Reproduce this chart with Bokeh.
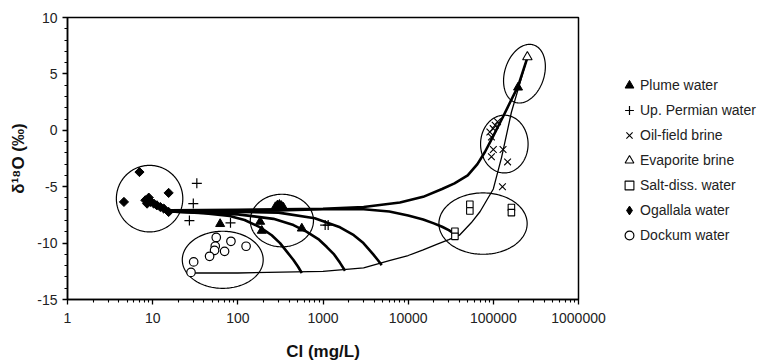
import numpy as np
from bokeh.plotting import figure
from bokeh.layouts import row
from bokeh.models import Legend, LegendItem, FixedTicker
from bokeh.embed import file_html
from bokeh.resources import INLINE

FONT = "Liberation Sans"

# ---------------- data ----------------
plume_cl = [62, 183, 191, 276, 292, 308, 325, 343, 564, 195000]
plume_d18o = [-8.3, -8.1, -8.9, -6.8, -6.65, -6.6, -6.7, -6.85, -8.7, 3.8]

permian_cl = [33, 30, 27, 82, 1060, 1150]
permian_d18o = [-4.7, -6.5, -8.0, -8.2, -8.4, -8.4]

oilfield_cl = [91000, 99600, 105000, 112000, 95000, 100000, 130000, 95000, 147000, 128000]
oilfield_d18o = [-0.15, 0.15, 0.45, 0.75, -0.6, -1.7, -1.7, -2.35, -2.8, -5.0]

evaporite_cl = [251000]
evaporite_d18o = [6.5]

saltdiss_cl = [53000, 53000, 163000, 163000, 35400, 35400]
saltdiss_d18o = [-6.55, -7.15, -6.85, -7.3, -8.95, -9.4]

ogallala_cl = [7.0, 4.6, 15.4, 8.2, 9.0, 9.4, 8.6, 10.3, 11.2, 12.3, 13.5, 15.4]
ogallala_d18o = [-3.7, -6.35, -5.55, -6.2, -5.97, -6.35, -6.5, -6.5, -6.65, -6.8, -6.94, -7.24]

dockum_cl = [55.8, 83, 125, 54.3, 53.3, 69.9, 46.6, 30.3, 28.2]
dockum_d18o = [-9.5, -9.84, -10.28, -10.28, -10.64, -10.73, -11.17, -11.67, -12.6]

# mixing curves (thick): Ogallala -> evaporite, -> salt-diss, -> three Dockum-side end points
mix_evap_cl = [16, 100, 300, 1000, 3000, 8000, 15000, 25000, 35000, 50000, 65000, 80000,
               100000, 130000, 160000, 195000, 250000]
mix_evap_d18o = [-7.1, -7.05, -7.0, -6.95, -6.8, -6.4, -5.9, -5.2, -4.7, -4.0, -3.0, -1.9,
                 -0.5, 1.2, 2.6, 3.9, 6.4]

mix_salt_cl = [16, 300, 1000, 3000, 6000, 10000, 15000, 20000, 25000, 30000, 37000]
mix_salt_d18o = [-7.2, -7.1, -7.0, -7.0, -7.2, -7.55, -7.9, -8.25, -8.55, -8.85, -9.3]

mix_c1_cl = [16, 40, 80, 120, 183, 250, 313, 380, 450, 510, 564]
mix_c1_d18o = [-7.2, -7.35, -7.6, -7.95, -8.6, -9.3, -10.0, -10.8, -11.5, -12.1, -12.65]

mix_c2_cl = [16, 100, 262, 450, 646, 900, 1110, 1350, 1585, 1815]
mix_c2_d18o = [-7.2, -7.45, -7.85, -8.4, -9.0, -9.7, -10.35, -11.0, -11.75, -12.45]

mix_c3_cl = [16, 300, 800, 1585, 2300, 2980, 3500, 3890, 4400, 4890]
mix_c3_d18o = [-7.15, -7.3, -7.8, -8.6, -9.3, -10.0, -10.6, -11.0, -11.5, -11.95]

# thin curve: Dockum -> salt-diss -> evaporite
mix_dock_cl = [28, 100, 1000, 3000, 6000, 10000, 15000, 22000, 30000, 40000, 55000, 70000,
               100000, 125000, 163000, 200000, 250000]
mix_dock_d18o = [-12.65, -12.65, -12.5, -12.2, -11.55, -11.1, -10.6, -10.1, -9.7, -9.3, -8.2, -7.2,
                 -5.2, -2.4, 1.6, 3.9, 6.4]

# group envelopes: centre (mg/L, permil), half-widths (decades, permil), tilt (decades)
ell_cl = [9.2, 66.5, 329, 75700, 134600, 232000]
ell_d18o = [-6.06, -11.48, -8.0, -8.27, -1.22, 5.02]
ell_rx_dec = [0.39, 0.475, 0.371, 0.518, 0.279, 0.238]
ell_ry = [2.95, 2.53, 2.33, 2.72, 2.56, 2.6]
ell_tilt = [0.0, 0.0, 0.0, 0.0, 0.0, 0.06]

x_ticks = [1, 10, 100, 1000, 10000, 100000, 1000000]
x_tick_labels = ["1", "10", "100", "1000", "10000", "100000", "1000000"]
y_ticks = [-15, -10, -5, 0, 5, 10]
y_tick_labels = ["-15", "-10", "-5", "0", "5", "10"]

legend_labels = ["Plume water", "Up. Permian water", "Oil-field brine", "Evaporite brine",
                 "Salt-diss. water", "Ogallala water", "Dockum water"]

# ---------------- main figure ----------------
p = figure(width=612, height=363, x_axis_type="log", x_range=(1, 1000000), y_range=(-15, 10),
           output_backend="svg", toolbar_location=None,
           min_border_left=67, min_border_right=34, min_border_top=17, min_border_bottom=64)
p.background_fill_color = "white"
p.border_fill_color = "white"
p.xgrid.visible = False
p.ygrid.visible = False
p.outline_line_color = "black"
p.outline_line_width = 1.5

# envelopes
t = np.linspace(0, 2 * np.pi, 181)
ex, ey = [], []
for cx, cy, rx, ry, tl in zip(ell_cl, ell_d18o, ell_rx_dec, ell_ry, ell_tilt):
    ex.append(cx * 10 ** (rx * np.cos(t) + tl * np.sin(t)))
    ey.append(cy + ry * np.sin(t))
p.multi_line(ex, ey, line_color="black", line_width=1.2)

# mixing curves
p.line(mix_dock_cl, mix_dock_d18o, line_color="black", line_width=1.3)
for cx, cy in [(mix_evap_cl, mix_evap_d18o), (mix_salt_cl, mix_salt_d18o),
               (mix_c1_cl, mix_c1_d18o), (mix_c2_cl, mix_c2_d18o), (mix_c3_cl, mix_c3_d18o)]:
    p.line(cx, cy, line_color="black", line_width=2.6, line_join="round")

# marker styles shared by plot and legend
styles = [
    dict(marker="triangle", size=9, fill_color="black", line_color="black"),
    dict(marker="cross", size=10, line_color="black", line_width=1.2),
    dict(marker="x", size=9.5, line_color="black", line_width=1.1),
    dict(marker="triangle", size=9.5, fill_color="white", line_color="black", line_width=1.1),
    dict(marker="square", size=6.5, fill_color="white", line_color="black", line_width=1.1),
    dict(marker="square", angle=np.pi / 4, size=6.5, fill_color="black", line_color="black"),
    dict(marker="circle", size=8.5, fill_color="white", line_color="black", line_width=1.2),
]
series = [(plume_cl, plume_d18o), (permian_cl, permian_d18o), (oilfield_cl, oilfield_d18o),
          (evaporite_cl, evaporite_d18o), (saltdiss_cl, saltdiss_d18o),
          (ogallala_cl, ogallala_d18o), (dockum_cl, dockum_d18o)]
draw_order = [6, 5, 4, 3, 2, 1, 0]
for i in draw_order:
    p.scatter(series[i][0], series[i][1], **styles[i])

# axes
minor_x = [m * 10 ** k for k in range(6) for m in range(2, 10)]
p.xaxis.ticker = FixedTicker(ticks=x_ticks, minor_ticks=minor_x)
p.xaxis.major_label_overrides = {tk: lab for tk, lab in zip(x_ticks, x_tick_labels)}
p.yaxis.ticker = FixedTicker(ticks=y_ticks, minor_ticks=list(range(-15, 11)))
p.yaxis.major_label_overrides = {tk: lab for tk, lab in zip(y_ticks, y_tick_labels)}

p.xaxis.axis_label = "Cl (mg/L)"
p.yaxis.axis_label = "δ¹⁸O (‰)"
for ax in (p.xaxis, p.yaxis):
    ax.axis_line_color = "black"
    ax.axis_line_width = 1.5
    ax.major_tick_line_color = "black"
    ax.minor_tick_line_color = "black"
    ax.major_tick_line_width = 1.3
    ax.minor_tick_line_width = 1.1
    ax.major_tick_in = 0
    ax.major_tick_out = 5
    ax.minor_tick_in = 0
    ax.minor_tick_out = 3
    ax.major_label_text_font = FONT
    ax.major_label_text_font_size = "14px"
    ax.major_label_text_color = "#222222"
    ax.axis_label_text_font = FONT
    ax.axis_label_text_font_size = "17px"
    ax.axis_label_text_font_style = "bold"
    ax.axis_label_text_color = "#111111"
p.xaxis.major_label_standoff = 8
p.xaxis.axis_label_standoff = 16
p.yaxis.major_label_standoff = 5
p.yaxis.axis_label_standoff = 6

# ---------------- legend panel (series drawn off-range, only their legend glyphs show) ----------------
lg = figure(width=148, height=363, x_range=(-2, -1), y_range=(-100, -99), output_backend="svg",
            toolbar_location=None, x_axis_location=None, y_axis_location=None,
            min_border_left=0, min_border_top=17, min_border_right=0, min_border_bottom=64)
lg.xgrid.visible = False
lg.ygrid.visible = False
lg.outline_line_color = None
lg.background_fill_color = "white"
lg.border_fill_color = "white"

items = []
for i, lab in enumerate(legend_labels):
    st = dict(styles[i])
    if i == 5:
        st = dict(marker="diamond", size=10, fill_color="black", line_color="black")
    r = lg.scatter(series[i][0], series[i][1], **st)
    items.append(LegendItem(label=lab, renderers=[r]))

legend = Legend(items=items, location=(6, 53), orientation="vertical")
legend.label_text_font = FONT
legend.label_text_font_size = "14px"
legend.label_text_color = "#222222"
legend.glyph_width = 22
legend.glyph_height = 22
legend.label_height = 22
legend.spacing = 3
legend.padding = 0
legend.margin = 0
legend.label_standoff = 0
legend.border_line_color = None
legend.background_fill_alpha = 0
lg.add_layout(legend)

layout = row(p, lg, spacing=0)
open("out.html", "w").write(file_html(layout, INLINE))
